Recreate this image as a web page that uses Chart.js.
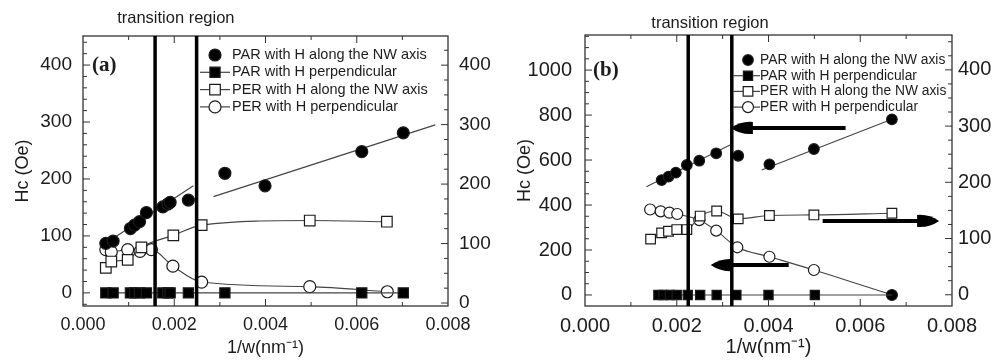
<!DOCTYPE html>
<html>
<head>
<meta charset="utf-8">
<script src="https://cdn.jsdelivr.net/npm/chart.js@4/dist/chart.umd.min.js"></script>
<style>
html, body { margin: 0; padding: 0; background: #fff; }
#wrap { position: relative; width: 1001px; height: 360px; }
#wrap canvas { position: absolute; top: 0; }
</style>
</head>
<body>
<div id="wrap">
  <canvas id="chart-a" width="500" height="360" style="left:0"></canvas>
  <canvas id="chart-b" width="501" height="360" style="left:500px"></canvas>
</div>
<script>
// ---- panel (a) data ----
const aParAlongX = [0.0005, 0.00066, 0.00104, 0.00113, 0.00124, 0.00139, 0.00175, 0.00186, 0.00191, 0.00231, 0.00311, 0.00399, 0.00611, 0.00702];
const aParAlongY = [87, 91, 113, 119, 125, 141, 151, 156, 159, 163, 210, 188, 248, 281];
const aParPerpX = [0.0005, 0.00066, 0.00104, 0.00113, 0.00124, 0.00139, 0.00175, 0.00186, 0.00191, 0.00231, 0.00311, 0.00611, 0.00702];
const aParPerpY = [0, 0, 0, 0, 0, 0, 0, 0, 0, 0, 0, 0, 0];
const aPerAlongX = [0.0005, 0.00062, 0.00098, 0.00128, 0.00198, 0.0026, 0.00497, 0.00666];
const aPerAlongY = [44, 55, 58, 80, 101, 119, 127, 125];
const aPerPerpX = [0.0005, 0.00062, 0.00098, 0.00125, 0.0015, 0.00197, 0.0026, 0.00497, 0.00667];
const aPerPerpY = [76, 72, 76, 73, 76, 47, 19, 11, 2];
const aFit1X = [0.00044, 0.00242];
const aFit1Y = [84, 188];
const aFit2X = [0.00286, 0.00772];
const aFit2Y = [169, 295];
const aTransition = [0.00158, 0.00249];
const aYTicks = [0, 100, 200, 300, 400];
const aY2Ticks = [0, 100, 200, 300, 400];

// ---- panel (b) data ----
const bParAlongX = [0.00167, 0.00182, 0.00198, 0.00222, 0.00249, 0.00286, 0.00334, 0.00402, 0.00499, 0.00669];
const bParAlongY = [511, 526, 544, 578, 597, 630, 619, 581, 649, 781];
const bParPerpX = [0.0016, 0.00171, 0.00185, 0.002, 0.00224, 0.00251, 0.00287, 0.0033, 0.004, 0.00501, 0.00669];
const bParPerpY = [0, 0, 0, 0, 0, 0, 0, 0, 0, 0, 0];
const bPerAlongX = [0.00143, 0.00167, 0.00182, 0.002, 0.00222, 0.00251, 0.00287, 0.00334, 0.00402, 0.00499, 0.00669];
const bPerAlongY = [99, 110, 113, 116, 116, 140, 149, 135, 141, 142, 145]; // right axis
const bPerPerpX = [0.00142, 0.00165, 0.00184, 0.00201, 0.00249, 0.00286, 0.00332, 0.00402, 0.00499, 0.00669];
const bPerPerpY = [380, 372, 366, 360, 333, 286, 212, 170, 111, 0];
const bFit1X = [0.00134, 0.00316];
const bFit1Y = [481, 667];
const bFit2X = [0.00385, 0.00669];
const bFit2Y = [556, 781];
const bTransition = [0.00225, 0.0032];
const bYTicks = [0, 200, 400, 600, 800, 1000];
const bY2Ticks = [0, 100, 200, 300, 400];
// arrows: [from x, to x, y on left axis]
const bArrows = [[0.00568, 0.00318, 743], [0.00444, 0.00274, 133], [0.00518, 0.00772, 329]];

const legendLabels = ['PAR with H along the NW axis', 'PAR with H perpendicular', 'PER with H along the NW axis', 'PER with H perpendicular'];
const xTicks = [0, 0.002, 0.004, 0.006, 0.008];

const INK = '#1c1c1c';
const LINE = '#444';
const FONT = "'Liberation Sans', Arial, sans-serif";

const pts = (xs, ys) => xs.map((x, i) => ({ x, y: ys[i] }));

function drawMark(ctx, style, fill, r, x, y) {
    ctx.beginPath();
    if (style === 'rect') {
        const s = r * Math.SQRT1_2;
        ctx.rect(x - s, y - s, 2 * s, 2 * s);
    } else {
        ctx.arc(x, y, r, 0, Math.PI * 2);
    }
    ctx.fillStyle = fill;
    ctx.fill();
    ctx.lineWidth = 1.2;
    ctx.strokeStyle = INK;
    ctx.stroke();
}

// legend drawn inside the plot
const insideLegend = {
    id: 'insideLegend',
    afterDraw(chart, args, o) {
        const ctx = chart.ctx;
        ctx.save();
        chart.data.datasets.filter(d => d.inLegend).forEach((d, i) => {
            const y = o.y + i * o.dy;
            if (d.showLine) {
                ctx.beginPath();
                ctx.moveTo(o.lineX0, y);
                ctx.lineTo(o.lineX1, y);
                ctx.lineWidth = 1.2;
                ctx.strokeStyle = LINE;
                ctx.stroke();
            }
            const fill = Array.isArray(d.pointBackgroundColor) ? d.pointBackgroundColor[0] : d.pointBackgroundColor;
            const r = Array.isArray(d.pointRadius) ? d.pointRadius[0] : d.pointRadius;
            drawMark(ctx, d.pointStyle, fill, r, o.symX, y);
            ctx.font = o.font;
            ctx.fillStyle = INK;
            ctx.textBaseline = 'middle';
            ctx.fillText(d.label, o.textX, y);
        });
        ctx.restore();
    }
};

// frame, inward ticks, transition lines, arrows, panel tag
const decor = {
    id: 'decor',
    afterDatasetsDraw(chart, args, o) {
        const ctx = chart.ctx;
        const a = chart.chartArea;
        const xs = chart.scales.x, yl = chart.scales.y, yr = chart.scales.y2;
        ctx.save();
        ctx.strokeStyle = '#333';
        ctx.lineWidth = 1.3;
        ctx.strokeRect(a.left, a.top, a.right - a.left, a.bottom - a.top);

        const tick = (x0, y0, x1, y1) => { ctx.beginPath(); ctx.moveTo(x0, y0); ctx.lineTo(x1, y1); ctx.stroke(); };
        ctx.lineWidth = 1;
        for (let k = 1; k * 0.001 < 0.008; k++) {
            const px = xs.getPixelForValue(k * 0.001);
            const len = k % 2 === 0 ? 7 : 4;
            tick(px, a.bottom, px, a.bottom - len);
            tick(px, a.top, px, a.top + len);
        }
        for (let k = Math.ceil(yl.min / o.yMinor); k * o.yMinor <= yl.max; k++) {
            const v = k * o.yMinor;
            const py = yl.getPixelForValue(v);
            tick(a.left, py, a.left + (v % o.yMajor === 0 ? 7 : 4), py);
        }
        for (let k = Math.ceil(yr.min / o.y2Minor); k * o.y2Minor <= yr.max; k++) {
            const v = k * o.y2Minor;
            const py = yr.getPixelForValue(v);
            tick(a.right, py, a.right - (v % o.y2Major === 0 ? 7 : 4), py);
        }

        // transition region
        ctx.strokeStyle = '#000';
        ctx.lineWidth = 3.5;
        const tx = o.transition.map(v => xs.getPixelForValue(v));
        tx.forEach(px => tick(px, a.top, px, a.bottom));
        ctx.font = '16.5px ' + FONT;
        ctx.fillStyle = INK;
        ctx.textAlign = 'center';
        ctx.textBaseline = 'middle';
        ctx.fillText('transition region', (tx[0] + tx[1]) / 2, o.textY);

        // panel tag
        ctx.font = "bold 21px 'Liberation Serif', 'Times New Roman', serif";
        ctx.textAlign = 'left';
        ctx.fillText(o.tag, o.tagX, o.tagY);

        // arrows
        (o.arrows || []).forEach(([from, to, v]) => {
            const x0 = xs.getPixelForValue(from), x1 = xs.getPixelForValue(to);
            const py = yl.getPixelForValue(v);
            const dir = Math.sign(x1 - x0);
            ctx.lineWidth = 4;
            tick(x0, py, x1 - dir * 12, py);
            ctx.beginPath();
            ctx.moveTo(x1, py);
            ctx.quadraticCurveTo(x1 - dir * 10, py - 7, x1 - dir * 22, py - 6);
            ctx.lineTo(x1 - dir * 22, py + 6);
            ctx.quadraticCurveTo(x1 - dir * 10, py + 7, x1, py);
            ctx.fillStyle = '#000';
            ctx.fill();
        });
        ctx.restore();
    }
};

function series(label, data, style, fill, r, showLine, extra) {
    return Object.assign({
        label, data, inLegend: true, showLine,
        pointStyle: style, pointRadius: r, pointBackgroundColor: fill,
        pointBorderColor: INK, pointBorderWidth: 1.2,
        borderColor: LINE, borderWidth: 1.1,
        cubicInterpolationMode: 'monotone'
    }, extra || {});
}

function fitLine(data) {
    return { label: 'fit', data, inLegend: false, showLine: true, pointRadius: 0, borderColor: LINE, borderWidth: 1.1 };
}

function makeChart(id, p) {
    const yAxis = (pos, min, max, ticks, pad, width) => ({
        type: 'linear', position: pos, min, max,
        afterFit: s => { s.width = width; },
        afterBuildTicks: s => { s.ticks = ticks.map(v => ({ value: v })); },
        grid: { display: false, drawTicks: false },
        border: { display: false },
        ticks: { padding: pad, color: INK, font: { family: FONT, size: p.yFont }, callback: v => String(v) }
    });
    const y = yAxis('left', p.yMin, p.yMax, p.yTicks, p.yPad, p.leftW);
    y.title = { display: true, text: 'Hc (Oe)', color: INK, font: { family: FONT, size: 18 }, padding: { top: p.titlePad, bottom: 0 } };
    const y2 = yAxis('right', p.y2Min, p.y2Max, p.y2Ticks, p.y2Pad, p.rightW);

    return new Chart(document.getElementById(id), {
        type: 'scatter',
        data: { datasets: p.datasets },
        options: {
            responsive: false,
            animation: false,
            events: [],
            layout: { padding: { top: p.top, left: 0, right: 0, bottom: 0 } },
            scales: {
                x: {
                    type: 'linear', min: 0, max: 0.008,
                    afterFit: s => { s.height = 54; },
                    afterBuildTicks: s => { s.ticks = xTicks.map(v => ({ value: v })); },
                    grid: { display: false, drawTicks: false },
                    border: { display: false },
                    ticks: { padding: 8, maxRotation: 0, color: INK, font: { family: FONT, size: p.xFont }, callback: v => v.toFixed(3) },
                    title: { display: true, text: '1/w(nm⁻¹)', color: INK, font: { family: FONT, size: p.xFont }, padding: { top: 0, bottom: 1 } }
                },
                y, y2
            },
            plugins: {
                legend: { display: false },
                tooltip: { enabled: false },
                insideLegend: p.legend,
                decor: p.decor
            }
        },
        plugins: [insideLegend, decor]
    });
}

makeChart('chart-a', {
    top: 36, leftW: 83, rightW: 52,
    yMin: -23, yMax: 451, yTicks: aYTicks, y2Min: -5, y2Max: 449, y2Ticks: aY2Ticks,
    yPad: 11, y2Pad: 11, titlePad: 12, yFont: 19, xFont: 18,
    legend: { y: 55, dy: 17.3, lineX0: 200, lineX1: 230, symX: 215, textX: 232, font: '14.5px ' + FONT },
    decor: { yMinor: 20, yMajor: 100, y2Minor: 25, y2Major: 100, transition: aTransition, textY: 18, tag: '(a)', tagX: 92, tagY: 66 },
    datasets: [
        series(legendLabels[0], pts(aParAlongX, aParAlongY), 'circle', '#000', 6, false),
        series(legendLabels[1], pts(aParPerpX, aParPerpY), 'rect', '#000', 7.2, true),
        series(legendLabels[2], pts(aPerAlongX, aPerAlongY), 'rect', '#fff', 7.5, true),
        series(legendLabels[3], pts(aPerPerpX, aPerPerpY), 'circle', '#fff', 6, true),
        fitLine(pts(aFit1X, aFit1Y)),
        fitLine(pts(aFit2X, aFit2Y))
    ]
});

makeChart('chart-b', {
    top: 35, leftW: 85, rightW: 49,
    yMin: -49, yMax: 1156, yTicks: bYTicks, y2Min: -20, y2Max: 462, y2Ticks: bY2Ticks,
    yPad: 13, y2Pad: 6, titlePad: 14, yFont: 20, xFont: 20,
    legend: { y: 60, dy: 15.7, lineX0: 233, lineX1: 260, symX: 248, textX: 260, font: '13.8px ' + FONT },
    decor: { yMinor: 50, yMajor: 200, y2Minor: 25, y2Major: 100, transition: bTransition, textY: 23, tag: '(b)', tagX: 93, tagY: 71, arrows: bArrows },
    datasets: [
        series(legendLabels[0], pts(bParAlongX, bParAlongY), 'circle', '#000', 5.3, false),
        series(legendLabels[1], pts(bParPerpX, bParPerpY), 'rect', '#000', 6.5, true,
            { pointRadius: bParPerpX.map((x, i) => i === bParPerpX.length - 1 ? 0 : 6.5) }),
        series(legendLabels[2], pts(bPerAlongX, bPerAlongY), 'rect', '#fff', 6.8, true, { yAxisID: 'y2' }),
        series(legendLabels[3], pts(bPerPerpX, bPerPerpY), 'circle', '#fff', 5.5, true,
            { pointBackgroundColor: bPerPerpX.map((x, i) => i === bPerPerpX.length - 1 ? '#000' : '#fff') }),
        fitLine(pts(bFit1X, bFit1Y)),
        fitLine(pts(bFit2X, bFit2Y))
    ]
});
</script>
</body>
</html>
